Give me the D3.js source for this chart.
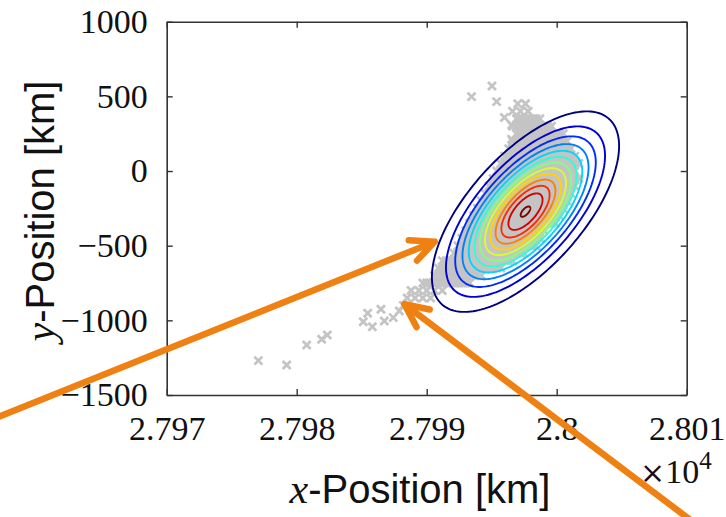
<!DOCTYPE html>
<html>
<head>
<meta charset="utf-8">
<script src="https://cdn.jsdelivr.net/npm/d3@7"></script>
<style>
  body { margin: 0; background: #fff; }
  svg { display: block; }
</style>
</head>
<body>
<div id="chart"></div>
<script>
// axis ticks
var xTicks = [27970, 27980, 27990, 28000, 28010];
var xTickLabels = ["2.797", "2.798", "2.799", "2.8", "2.801"];
var yTicks = [1000, 500, 0, -500, -1000, -1500];
var yTickLabels = ["1000", "500", "0", "\u2212500", "\u22121000", "\u22121500"];

// fitted gaussian (km) and its contour levels (relative density)
var gaussMean = [27997.6, -272];
var gaussSigma = [3.13, 292];
var gaussRho = 0.654;
var contourLevels = [0.071, 0.148, 0.225, 0.301, 0.378, 0.455, 0.532, 0.609, 0.686, 0.763, 0.839, 0.916, 0.993];

// particle positions, dense part given row by row: [y, [x...]]
var cloudRows = [
  [450, [27997.0, 27997.6]],
  [400, [27996.6, 27997.2, 27997.8]],
  [350, [27996.9, 27997.2, 27997.5, 27997.8, 27998.1, 27998.4, 27998.7]],
  [300, [27996.6, 27996.9, 27997.2, 27997.5, 27997.8, 27998.1, 27998.4, 27998.7, 27999.0, 27999.3, 27999.6]],
  [250, [27996.9, 27997.2, 27997.5, 27997.8, 27998.1, 27998.4, 27998.7, 27999.0, 27999.3, 27999.6, 27999.9, 28000.2, 28000.5]],
  [200, [27996.6, 27996.9, 27997.2, 27997.5, 27997.8, 27998.1, 27998.4, 27998.7, 27999.0, 27999.3, 27999.6, 27999.9, 28000.2, 28000.5, 28000.8]],
  [150, [27996.3, 27996.6, 27996.9, 27997.2, 27997.5, 27997.8, 27998.1, 27998.4, 27998.7, 27999.0, 27999.3, 27999.6, 27999.9, 28000.2, 28000.5, 28000.8, 28001.1]],
  [100, [27996.0, 27996.3, 27996.6, 27996.9, 27997.2, 27997.5, 27997.8, 27998.1, 27998.4, 27998.7, 27999.0, 27999.3, 27999.6, 27999.9, 28000.2, 28000.5, 28000.8, 28001.1, 28001.4]],
  [50, [27995.7, 27996.0, 27996.3, 27996.6, 27996.9, 27997.2, 27997.5, 27997.8, 27998.1, 27998.4, 27998.7, 27999.0, 27999.3, 27999.6, 27999.9, 28000.2, 28000.5, 28000.8, 28001.1, 28001.4, 28001.7]],
  [0, [27995.4, 27995.7, 27996.0, 27996.3, 27996.6, 27996.9, 27997.2, 27997.5, 27997.8, 27998.1, 27998.4, 27998.7, 27999.0, 27999.3, 27999.6, 27999.9, 28000.2, 28000.5, 28000.8, 28001.1, 28001.4]],
  [-50, [27995.1, 27995.4, 27995.7, 27996.0, 27996.3, 27996.6, 27996.9, 27997.2, 27997.5, 27997.8, 27998.1, 27998.4, 27998.7, 27999.0, 27999.3, 27999.6, 27999.9, 28000.2, 28000.5, 28000.8, 28001.1, 28001.4, 28001.7]],
  [-100, [27994.8, 27995.1, 27995.4, 27995.7, 27996.0, 27996.3, 27996.6, 27996.9, 27997.2, 27997.5, 27997.8, 27998.1, 27998.4, 27998.7, 27999.0, 27999.3, 27999.6, 27999.9, 28000.2, 28000.5, 28000.8, 28001.1, 28001.4]],
  [-150, [27994.5, 27994.8, 27995.1, 27995.4, 27995.7, 27996.0, 27996.3, 27996.6, 27996.9, 27997.2, 27997.5, 27997.8, 27998.1, 27998.4, 27998.7, 27999.0, 27999.3, 27999.6, 27999.9, 28000.2, 28000.5, 28000.8, 28001.1]],
  [-200, [27994.2, 27994.5, 27994.8, 27995.1, 27995.4, 27995.7, 27996.0, 27996.3, 27996.6, 27996.9, 27997.2, 27997.5, 27997.8, 27998.1, 27998.4, 27998.7, 27999.0, 27999.3, 27999.6, 27999.9, 28000.2, 28000.5, 28000.8]],
  [-250, [27993.9, 27994.2, 27994.5, 27994.8, 27995.1, 27995.4, 27995.7, 27996.0, 27996.3, 27996.6, 27996.9, 27997.2, 27997.5, 27997.8, 27998.1, 27998.4, 27998.7, 27999.0, 27999.3, 27999.6, 27999.9, 28000.2, 28000.5]],
  [-300, [27993.6, 27993.9, 27994.2, 27994.5, 27994.8, 27995.1, 27995.4, 27995.7, 27996.0, 27996.3, 27996.6, 27996.9, 27997.2, 27997.5, 27997.8, 27998.1, 27998.4, 27998.7, 27999.0, 27999.3, 27999.6, 27999.9, 28000.2]],
  [-350, [27993.3, 27993.6, 27993.9, 27994.2, 27994.5, 27994.8, 27995.1, 27995.4, 27995.7, 27996.0, 27996.3, 27996.6, 27996.9, 27997.2, 27997.5, 27997.8, 27998.1, 27998.4, 27998.7, 27999.0, 27999.3, 27999.6, 27999.9]],
  [-400, [27993.0, 27993.3, 27993.6, 27993.9, 27994.2, 27994.5, 27994.8, 27995.1, 27995.4, 27995.7, 27996.0, 27996.3, 27996.6, 27996.9, 27997.2, 27997.5, 27997.8, 27998.1, 27998.4, 27998.7, 27999.0]],
  [-450, [27992.7, 27993.0, 27993.3, 27993.6, 27993.9, 27994.2, 27994.5, 27994.8, 27995.1, 27995.4, 27995.7, 27996.0, 27996.3, 27996.6, 27996.9, 27997.2, 27997.5, 27997.8, 27998.1, 27998.4, 27998.7]],
  [-500, [27992.4, 27992.7, 27993.0, 27993.3, 27993.6, 27993.9, 27994.2, 27994.5, 27994.8, 27995.1, 27995.4, 27995.7, 27996.0, 27996.3, 27996.6, 27996.9, 27997.2, 27997.5, 27997.8, 27998.1, 27998.4]],
  [-550, [27992.1, 27992.4, 27992.7, 27993.0, 27993.3, 27993.6, 27993.9, 27994.2, 27994.5, 27994.8, 27995.1, 27995.4, 27995.7, 27996.0, 27996.3, 27996.6, 27996.9, 27997.2, 27997.5]],
  [-600, [27991.2, 27991.5, 27991.8, 27992.1, 27992.4, 27992.7, 27993.0, 27993.3, 27993.6, 27993.9, 27994.2, 27994.5, 27994.8, 27995.1, 27995.4, 27995.7, 27996.0, 27996.3, 27996.6]],
  [-650, [27990.9, 27991.2, 27991.5, 27991.8, 27992.1, 27992.4, 27992.7, 27993.0, 27993.3, 27993.6, 27993.9, 27994.2, 27994.5, 27994.8, 27995.1, 27995.4, 27995.7]],
  [-700, [27990.6, 27990.9, 27991.2, 27991.5, 27991.8, 27992.1, 27992.4, 27992.7, 27993.0, 27993.3, 27993.6, 27993.9, 27994.2]],
  [-750, [27989.7, 27990.0, 27990.3, 27990.6, 27990.9, 27991.2, 27991.5, 27991.8, 27992.1, 27992.4, 27992.7, 27993.0, 27993.3]],
  [-800, [27988.8, 27989.4, 27990.0, 27990.6, 27991.2]],
  [-850, [27988.5, 27989.1, 27989.7, 27990.3]],
  [-900, [27988.2]]
];
// stray particles [x, y]
var strayPoints = [
  [27977.05, -1270], [27979.23, -1299], [27980.77, -1165], [27981.92, -1127], [27982.35, -1098],
  [27985.12, -1009], [27985.46, -953], [27985.82, -1043], [27986.48, -926], [27986.74, -1004],
  [27987.43, -982], [27987.89, -937],
  [27993.45, 498], [27995.02, 569], [27995.38, 465], [27995.98, 358], [27996.53, 213], [27996.54, 308]
];

// annotation arrows, tail -> tip in data units
var arrowTails = [[27956.4, -1670], [28011.0, -2384]];
var arrowTips = [[27990.62, -473], [27988.28, -891]];

var w = 726;
var h = 517;

var svg = d3.select("#chart").append("svg").attr("width", w).attr("height", h);

var x = d3.scaleLinear().domain([27970, 28010]).range([166.7, 686.7]);
var y = d3.scaleLinear().domain([-1500, 1000]).range([395, 21.7]);

// jet colormap
function jet(t) {
    function c(v) { return Math.round(255 * Math.max(0, Math.min(1, v))); }
    return "rgb(" + c(1.5 - Math.abs(4 * t - 3)) + "," + c(1.5 - Math.abs(4 * t - 2)) + "," + c(1.5 - Math.abs(4 * t - 1)) + ")";
}

// particles
var points = [];
cloudRows.forEach(function(r) {
    r[1].forEach(function(xv) { points.push([xv, r[0]]); });
});
strayPoints.forEach(function(p) { points.push(p); });

var s = 4.0;
svg.append("g")
    .selectAll("path")
    .data(points)
    .enter()
    .append("path")
    .attr("transform", function(d) { return "translate(" + x(d[0]) + "," + y(d[1]) + ")"; })
    .attr("d", "M" + (-s) + "," + (-s) + "L" + s + "," + s + "M" + (-s) + "," + s + "L" + s + "," + (-s))
    .attr("stroke", "#c4c4c4")
    .attr("stroke-width", 2.7)
    .attr("fill", "none");

// contours of the gaussian
var lmin = d3.min(contourLevels), lmax = d3.max(contourLevels);
var line = d3.line().x(function(d) { return x(d[0]); }).y(function(d) { return y(d[1]); }).curve(d3.curveLinearClosed);
var angles = d3.range(0, 2 * Math.PI, Math.PI / 90);

svg.append("g")
    .selectAll("path")
    .data(contourLevels)
    .enter()
    .append("path")
    .attr("d", function(lv) {
        var r = Math.sqrt(-2 * Math.log(lv));
        var pts = angles.map(function(a) {
            var u = r * Math.cos(a), v = r * Math.sin(a);
            return [gaussMean[0] + gaussSigma[0] * u,
                    gaussMean[1] + gaussSigma[1] * (gaussRho * u + Math.sqrt(1 - gaussRho * gaussRho) * v)];
        });
        return line(pts);
    })
    .attr("fill", "none")
    .attr("stroke", function(lv) { return jet((lv - lmin) / (lmax - lmin)); })
    .attr("stroke-width", 1.9);

// axes box with inward ticks
var boxColor = "#333";
function styleAxis(g) {
    g.select(".domain").attr("stroke", boxColor).attr("stroke-width", 1.6);
    g.selectAll(".tick line").attr("stroke", boxColor).attr("stroke-width", 1.4);
}

var xAxis = svg.append("g")
    .attr("transform", "translate(0," + y(-1500) + ")")
    .call(d3.axisBottom(x).tickValues(xTicks).tickSizeInner(-6).tickSizeOuter(0).tickPadding(21)
        .tickFormat(function(d, i) { return xTickLabels[i]; }));
xAxis.call(styleAxis);
xAxis.selectAll("text")
    .attr("font-family", "Liberation Serif, serif")
    .attr("font-size", "34px")
    .attr("fill", "#111");

var yAxis = svg.append("g")
    .attr("transform", "translate(" + x(27970) + ",0)")
    .call(d3.axisLeft(y).tickValues(yTicks).tickSizeInner(-6).tickSizeOuter(0).tickPadding(19)
        .tickFormat(function(d, i) { return yTickLabels[i]; }));
yAxis.call(styleAxis);
yAxis.selectAll("text")
    .attr("font-family", "Liberation Serif, serif")
    .attr("font-size", "34px")
    .attr("fill", "#111");

svg.append("g")
    .attr("transform", "translate(0," + y(1000) + ")")
    .call(d3.axisTop(x).tickValues(xTicks).tickSizeInner(-6).tickSizeOuter(0).tickFormat(""))
    .call(styleAxis);
svg.append("g")
    .attr("transform", "translate(" + x(28010) + ",0)")
    .call(d3.axisRight(y).tickValues(yTicks).tickSizeInner(-6).tickSizeOuter(0).tickFormat(""))
    .call(styleAxis);

// exponent of the x axis
var expo = svg.append("text")
    .attr("x", 640)
    .attr("y", 483)
    .attr("font-family", "DejaVu Serif, serif")
    .attr("fill", "#111");
expo.append("tspan").attr("font-size", "30px").text("\u00d7");
expo.append("tspan").attr("font-family", "Liberation Serif, serif").attr("font-size", "34px").text("10");
expo.append("tspan").attr("font-family", "Liberation Serif, serif").attr("font-size", "25px").attr("dy", -14).text("4");

// axis titles
var xt = svg.append("text")
    .attr("x", 420)
    .attr("y", 503)
    .attr("text-anchor", "middle")
    .attr("fill", "#111");
xt.append("tspan").attr("font-family", "Liberation Serif, serif").attr("font-style", "italic").attr("font-size", "42px").text("x");
xt.append("tspan").attr("font-family", "Liberation Sans, sans-serif").attr("font-size", "40px").text("-Position [km]");

var yt = svg.append("text")
    .attr("transform", "translate(54,211) rotate(-90)")
    .attr("text-anchor", "middle")
    .attr("fill", "#111");
yt.append("tspan").attr("font-family", "Liberation Serif, serif").attr("font-style", "italic").attr("font-size", "42px").text("y");
yt.append("tspan").attr("font-family", "Liberation Sans, sans-serif").attr("font-size", "40px").text("-Position [km]");

// orange arrows
var arrowColor = "#ef8012";
var wing = 26, spread = 25 * Math.PI / 180;
arrowTails.forEach(function(t, i) {
    var tail = [x(t[0]), y(t[1])];
    var tip = [x(arrowTips[i][0]), y(arrowTips[i][1])];
    var back = Math.atan2(tail[1] - tip[1], tail[0] - tip[0]);
    var w1 = [tip[0] + wing * Math.cos(back + spread), tip[1] + wing * Math.sin(back + spread)];
    var w2 = [tip[0] + wing * Math.cos(back - spread), tip[1] + wing * Math.sin(back - spread)];
    svg.append("path")
        .attr("d", "M" + tail + "L" + tip + "M" + w1 + "L" + tip + "L" + w2)
        .attr("fill", "none")
        .attr("stroke", arrowColor)
        .attr("stroke-width", 6.5)
        .attr("stroke-linecap", "round")
        .attr("stroke-linejoin", "round");
});
</script>
</body>
</html>
